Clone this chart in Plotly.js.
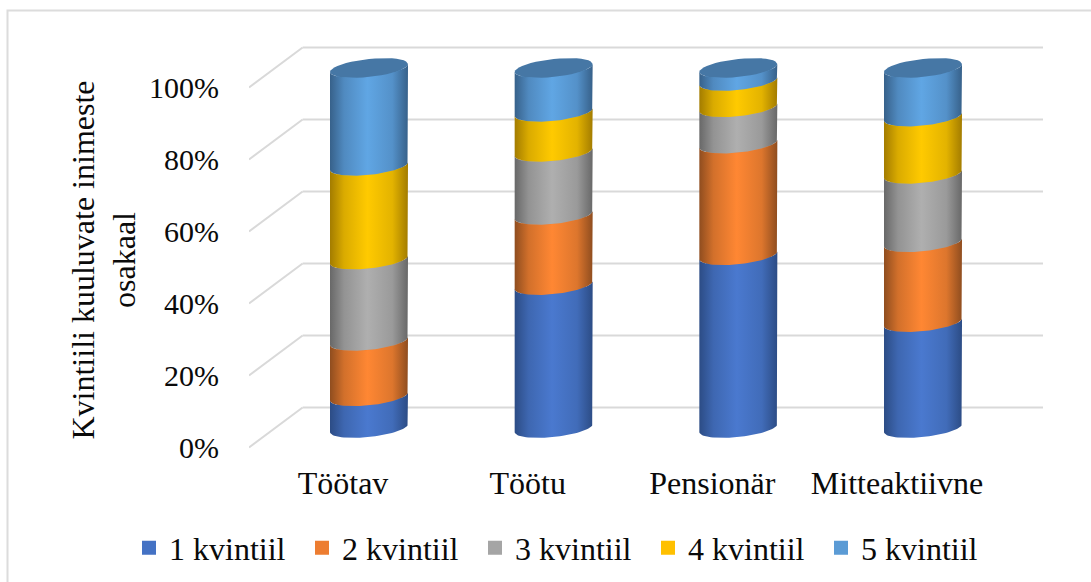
<!DOCTYPE html>
<html><head><meta charset="utf-8">
<script src="https://cdn.plot.ly/plotly-3.0.1.min.js"></script>
<style>html,body{margin:0;padding:0;background:#fff}#c{width:1091px;height:582px}</style>
</head><body><div id="c"></div>
<script>
const categories = ["Töötav","Töötu","Pensionär","Mitteaktiivne"];
const seriesNames = ["1 kvintiil","2 kvintiil","3 kvintiil","4 kvintiil","5 kvintiil"];
const q1 = [8.8, 39.7, 48.0, 29.4];
const q2 = [15.4, 19.5, 31.0, 22.2];
const q3 = [22.6, 17.5, 10.1, 19.0];
const q4 = [26.0, 11.1, 7.3, 15.9];
const q5 = [27.2, 12.2, 3.6, 13.5];
const yTicks = [0,20,40,60,80,100];
const swatch = ["#4472C4","#ED7D31","#A5A5A5","#FFC000","#5B9BD5"];
const centre = ["#4a79cf","#ff8733","#afafaf","#ffca00","#60a6e4"];
const edge = ["#2c4c85","#8f4d1f","#686868","#a37c00","#37618a"];
const topColor = "#4677a5";
const all = [q1,q2,q3,q4,q5];

// geometry, in px, of the pseudo-3D frame
const W=1091,H=582,L=249,R=1043,T=30,B=490;
const pxPerUnit=3.6, pxPerCat=184.67, x0Px=369, y0Px=447.5, axisPx=454;
const xr=[(L-x0Px)/pxPerCat,(R-x0Px)/pxPerCat];
const yr=[(y0Px-B)/pxPerUnit,(y0Px-T)/pxPerUnit];
const backDy=40/pxPerUnit, backDx=53.6/pxPerCat, midDy=19.5/pxPerUnit;
const rx=39/pxPerCat, tilt=4/pxPerUnit, ry=9/pxPerUnit, N=40;

function mix(a,b,t){
  const p=c=>[1,3,5].map(k=>parseInt(c.substr(k,2),16));
  const A=p(a),B_=p(b);
  return "rgb("+A.map((v,k)=>Math.round(v+(B_[k]-v)*t)).join(",")+")";
}
function arc(cx,v,a0,a1){ // part of a tilted ellipse around (cx, v)
  const xs=[],ys=[];
  for(let i=0;i<=N;i++){const t=a0+(a1-a0)*i/N;
    xs.push(cx+rx*Math.cos(t)); ys.push(v+tilt*Math.cos(t)-ry*Math.sin(t));}
  return [xs,ys];
}
const traces=[], overlays=[];
const bases=categories.map(()=>0);
all.forEach((vals,s)=>{
  traces.push({type:"bar",name:seriesNames[s],x:categories.map((_,i)=>i),y:vals,
    base:bases.map(b=>b+midDy),width:0.34,
    marker:{color:swatch[s],line:{color:swatch[s],width:2}},hoverinfo:"skip"});
  vals.forEach((v,i)=>{
    const lo=bases[i]+midDy, hi=lo+v;
    const up=arc(i,hi,Math.PI,0), dn=arc(i,lo,0,Math.PI);
    overlays.push({type:"scatter",mode:"lines",x:up[0].concat(dn[0]),y:up[1].concat(dn[1]),
      fill:"toself",line:{width:0},showlegend:false,hoverinfo:"skip",
      fillgradient:{type:"horizontal",colorscale:[[0,edge[s]],[0.18,mix(edge[s],centre[s],0.6)],[0.48,centre[s]],[0.8,mix(edge[s],centre[s],0.7)],[1,edge[s]]]}});
    bases[i]+=v;
    if(s===all.length-1){
      const e=arc(i,bases[i]+midDy,0,2*Math.PI);
      overlays.push({type:"scatter",mode:"lines",x:e[0],y:e[1],fill:"toself",fillcolor:topColor,
        line:{width:0},showlegend:false,hoverinfo:"skip"});
    }
  });
});
const gridColor="#d9d9d9";
const shapes=[];
yTicks.forEach(v=>{
  shapes.push({type:"line",layer:"below",xref:"x",yref:"y",x0:xr[0],y0:v,x1:xr[0]+backDx,y1:v+backDy,line:{color:gridColor,width:2}});
  shapes.push({type:"line",layer:"below",xref:"x",yref:"y",x0:xr[0]+backDx,y0:v+backDy,x1:xr[1],y1:v+backDy,line:{color:gridColor,width:2}});
});
const px=x=>(x-L)/(R-L), py=y=>(B-y)/(B-T);
shapes.push({type:"rect",layer:"below",xref:"paper",yref:"paper",x0:px(7.5),x1:px(1110),y0:py(10.5),y1:py(640),line:{color:"#dcdcdc",width:2},fillcolor:"rgba(0,0,0,0)"});

const font={family:"Liberation Serif, Times New Roman, serif",size:30,color:"#0a0a0a"};
const bigFont=Object.assign({},font,{size:32});
Plotly.newPlot("c",traces.concat(overlays),{
  width:W,height:H,margin:{l:L,r:W-R,t:T,b:H-B,pad:0,autoexpand:false},
  paper_bgcolor:"#fff",plot_bgcolor:"rgba(0,0,0,0)",barmode:"overlay",font,
  showlegend:true,
  legend:{orientation:"h",x:px(129),xanchor:"left",y:py(548),yanchor:"middle",font:bigFont,entrywidth:128,entrywidthmode:"pixels",bgcolor:"rgba(0,0,0,0)",itemclick:false},
  xaxis:{range:xr,tickmode:"array",tickvals:categories.map((_,i)=>i-26/pxPerCat),ticktext:categories,
    anchor:"free",position:(B-axisPx)/(B-T),showgrid:false,zeroline:false,showline:false,
    ticks:"outside",ticklen:1,tickcolor:"rgba(0,0,0,0)",tickfont:bigFont,tickangle:0},
  yaxis:{range:yr,tickmode:"array",tickvals:yTicks,ticktext:yTicks.map(v=>v+"%"),showgrid:false,zeroline:false,showline:false,
    ticks:"outside",ticklen:23,tickcolor:"rgba(0,0,0,0)",tickfont:font,
    title:{text:"Kvintiili kuuluvate inimeste<br>osakaal",font:bigFont,standoff:3}},
  shapes
},{displayModeBar:false,staticPlot:true});
</script></body></html>
